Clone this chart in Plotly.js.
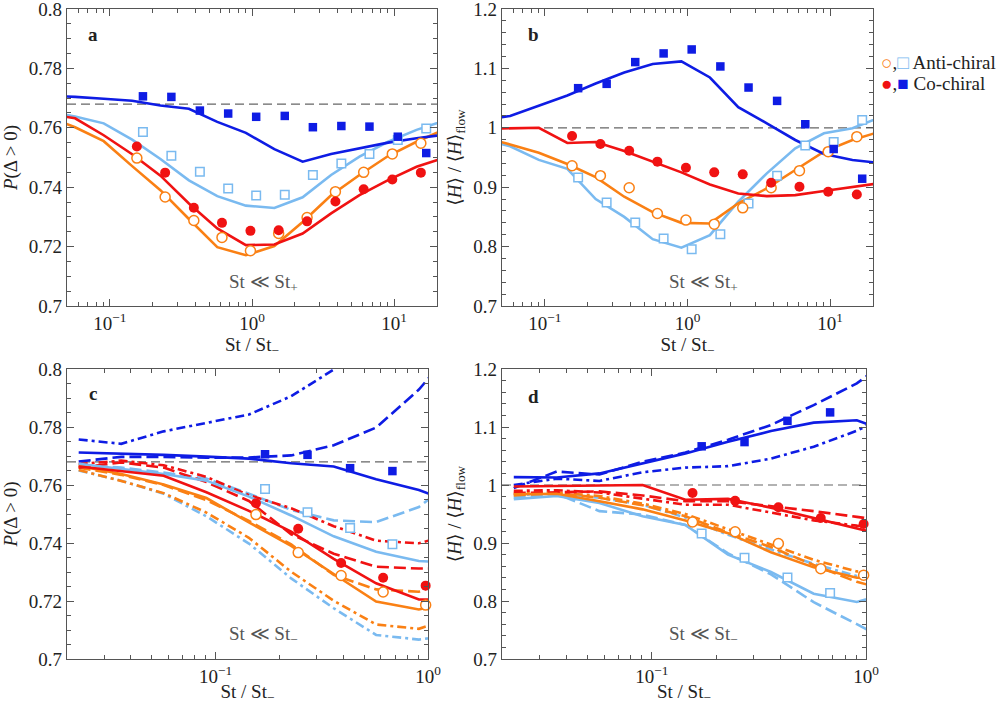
<!DOCTYPE html>
<html>
<head>
<meta charset="utf-8">
<script src="https://cdn.plot.ly/plotly-3.0.1.min.js"></script>
<style>
  html, body { margin: 0; padding: 0; background: #fff; }
  #chart { width: 1003px; height: 705px; }
</style>
</head>
<body>
<div id="chart"></div>
<script>
// Model grid of St / St- values on which the curves are computed
const stModel = [0.0227, 0.036, 0.057, 0.0906, 0.1436, 0.227, 0.36, 0.57, 0.906, 1.436, 2.27, 3.6, 5.7, 9.06, 14.36, 22.7];
// Simulation points: circles and squares sit on slightly shifted St values
const stCirc = [0.155, 0.245, 0.39, 0.615, 0.975, 1.54, 2.44, 3.86, 6.1, 9.7, 15.4];
const stSq = [0.171, 0.271, 0.43, 0.68, 1.07, 1.7, 2.68, 4.25, 6.7, 10.6, 16.8];

// P(Delta > 0): model curves (solid)
const pAntiCirc = [0.7666, 0.7638, 0.7602, 0.7555, 0.7471, 0.7390, 0.7293, 0.7198, 0.7171, 0.7202, 0.7283, 0.7373, 0.7441, 0.7505, 0.7553, 0.7595];
const pAntiSq = [0.7673, 0.7655, 0.7638, 0.7615, 0.7560, 0.7495, 0.7423, 0.7370, 0.7338, 0.7330, 0.7366, 0.7441, 0.7503, 0.7553, 0.7593, 0.7625];
const pCoCirc = [0.7664, 0.7648, 0.7632, 0.7575, 0.7511, 0.7439, 0.7345, 0.7261, 0.7205, 0.7207, 0.7244, 0.7312, 0.7373, 0.7424, 0.7469, 0.7500];
const pCoSq = [0.7712, 0.7709, 0.7704, 0.7698, 0.7691, 0.7675, 0.7664, 0.7620, 0.7583, 0.7528, 0.7486, 0.7512, 0.7531, 0.7550, 0.7565, 0.7577];

// P(Delta > 0): variants in the St << St- regime (dashed, dash-dot), first 10 grid values
const pAntiCircDash = [0.7660, 0.7635, 0.7600, 0.7548, 0.7476, 0.7395, 0.7290, 0.7240, 0.7232, 0.7292];
const pAntiCircDashDot = [0.7652, 0.7614, 0.7572, 0.7505, 0.7418, 0.7301, 0.7201, 0.7119, 0.7104, 0.7155];
const pAntiSqDash = [0.7668, 0.7660, 0.7643, 0.7622, 0.7570, 0.7514, 0.7478, 0.7472, 0.7524, 0.7640];
const pAntiSqDashDot = [0.7650, 0.7615, 0.7570, 0.7492, 0.7398, 0.7278, 0.7175, 0.7083, 0.7067, 0.7086];
const pCoCircDash = [0.7660, 0.7678, 0.7660, 0.7610, 0.7545, 0.7430, 0.7363, 0.7318, 0.7312, 0.7312];
const pCoCircDashDot = [0.7672, 0.7684, 0.7668, 0.7628, 0.7565, 0.7520, 0.7458, 0.7408, 0.7399, 0.7440];
const pCoSqDash = [0.7681, 0.7697, 0.7697, 0.7694, 0.7695, 0.7702, 0.7737, 0.7798, 0.7929, 0.8100];
const pCoSqDashDot = [0.7757, 0.7742, 0.7785, 0.7814, 0.7843, 0.7906, 0.7998, 0.8120, 0.8250, 0.8400];

// P(Delta > 0): simulation points
const pAntiCircPts = [0.7498, 0.7367, 0.7288, 0.7231, 0.7186, 0.7244, 0.7298, 0.7385, 0.7450, 0.7512, 0.7548];
const pAntiSqPts = [0.7586, 0.7506, 0.7452, 0.7396, 0.7372, 0.7375, 0.7441, 0.7480, 0.7512, 0.7559, 0.7598];
const pCoCircPts = [0.7537, 0.7449, 0.7331, 0.7280, 0.7253, 0.7255, 0.7285, 0.7352, 0.7393, 0.7426, 0.7449];
const pCoSqPts = [0.7706, 0.7704, 0.7658, 0.7648, 0.7637, 0.7640, 0.7602, 0.7606, 0.7604, 0.7570, 0.7515];

// <H>/<H>_flow: model curves (solid)
const hAntiCirc = [0.984, 0.985, 0.972, 0.958, 0.939, 0.917, 0.884, 0.858, 0.840, 0.839, 0.873, 0.898, 0.929, 0.960, 0.9795, 0.994];
const hAntiSq = [0.9756, 0.981, 0.969, 0.946, 0.931, 0.880, 0.850, 0.8125, 0.7982, 0.8192, 0.8755, 0.9233, 0.9655, 0.9908, 0.9992, 1.018];
const hCoCirc = [0.9975, 0.9986, 0.9992, 1.0000, 0.9745, 0.9760, 0.9610, 0.9430, 0.9250, 0.9047, 0.8895, 0.8850, 0.8867, 0.8935, 0.9008, 0.9070];
const hCoSq = [1.0136, 1.0130, 1.0200, 1.0370, 1.0545, 1.0745, 1.0930, 1.1075, 1.1117, 1.0847, 1.0346, 1.0076, 0.9795, 0.9559, 0.9458, 0.9405];

// <H>/<H>_flow: variants in the St << St- regime
const hAntiCircDash = [0.982, 0.986, 0.978, 0.965, 0.946, 0.918, 0.893, 0.862, 0.833, 0.814];
const hAntiCircDashDot = [0.986, 0.987, 0.981, 0.968, 0.950, 0.924, 0.898, 0.871, 0.851, 0.850];
const hAntiSqDash = [0.978, 0.985, 0.955, 0.949, 0.931, 0.882, 0.846, 0.798, 0.760, 0.722];
const hAntiSqDashDot = [0.982, 0.986, 0.978, 0.966, 0.944, 0.914, 0.889, 0.864, 0.843, 0.838];
const hCoCircDash = [0.986, 0.987, 0.989, 0.982, 0.972, 0.972, 0.964, 0.955, 0.945, 0.935];
const hCoCircDashDot = [0.990, 0.991, 0.987, 0.977, 0.966, 0.966, 0.953, 0.939, 0.930, 0.926];
const hCoSqDash = [0.9946, 1.0233, 1.0180, 1.0400, 1.0560, 1.0782, 1.1035, 1.1378, 1.1752, 1.229];
const hCoSqDashDot = [1.0000, 1.0110, 1.0070, 1.0220, 1.0300, 1.0325, 1.0455, 1.0660, 1.0935, 1.131];

// <H>/<H>_flow: simulation points
const hAntiCircPts = [0.9362, 0.9194, 0.8991, 0.8558, 0.8446, 0.8378, 0.8653, 0.8991, 0.9278, 0.9598, 0.9851];
const hAntiSqPts = [0.9165, 0.8744, 0.8406, 0.8136, 0.7956, 0.8209, 0.8727, 0.9193, 0.9700, 0.9761, 1.0133];
const hCoCircPts = [0.9863, 0.9728, 0.9615, 0.9430, 0.9328, 0.9250, 0.9216, 0.9075, 0.9008, 0.8924, 0.8878];
const hCoSqPts = [1.0667, 1.0740, 1.1106, 1.1252, 1.1319, 1.1033, 1.0678, 1.0453, 1.0060, 0.9643, 0.9143];

// Reference levels
const pRef = 0.768;
const hRef = 1.0;

// Tick labels
const tickValsWide = [0.1, 1, 10];
const tickTextWide = ['10<sup>−1</sup>', '10<sup>0</sup>', '10<sup>1</sup>'];
const tickValsNarrow = [0.1, 1];
const tickTextNarrow = ['10<sup>−1</sup>', '10<sup>0</sup>'];
const pTickVals = [0.7, 0.72, 0.74, 0.76, 0.78, 0.8];
const pTickText = ['0.7', '0.72', '0.74', '0.76', '0.78', '0.8'];
const hTickVals = [0.7, 0.8, 0.9, 1.0, 1.1, 1.2];
const hTickText = ['0.7', '0.8', '0.9', '1', '1.1', '1.2'];

const FONT = '"Liberation Serif", "DejaVu Serif", "Times New Roman", serif';
const C = {
  orange: 'rgb(250,128,20)',
  light: 'rgb(122,186,240)',
  red: 'rgb(240,18,18)',
  blue: 'rgb(14,28,228)'
};
const DASH = '12px,5px';
const DASHDOT = '9px,4px,3px,4px';
const AX = '#555';
const TXT = '#222';

function minorLog(lo, hi) {
  const out = [];
  for (let e = -3; e <= 2; e++) {
    for (let m = 2; m <= 9; m++) {
      const v = m * Math.pow(10, e);
      if (v >= lo * 0.999 && v <= hi * 1.001) out.push(v);
    }
  }
  return out;
}

function xAxis(domain, lo, hi, anchor, tv, tt) {
  return {
    type: 'log', domain, anchor,
    range: [Math.log10(lo), Math.log10(hi)],
    tickmode: 'array', tickvals: tv, ticktext: tt,
    ticks: 'inside', ticklen: 7, tickwidth: 1, tickcolor: AX,
    showline: true, linecolor: AX, linewidth: 1.2, mirror: 'ticks',
    showgrid: false, zeroline: false, ticklabeloverflow: 'allow',
    minor: { tickvals: minorLog(lo, hi), ticks: 'inside', ticklen: 4, tickcolor: AX, showgrid: false },
    tickfont: { family: FONT, size: 19, color: TXT },
    title: { text: 'St / St<sub>−</sub>', font: { family: FONT, size: 19, color: TXT }, standoff: 0 }
  };
}

function yAxis(domain, range, tv, tt, minorStep, anchor, title) {
  return {
    domain, anchor, range,
    tickmode: 'array', tickvals: tv, ticktext: tt,
    ticks: 'inside', ticklen: 7, tickwidth: 1, tickcolor: AX,
    showline: true, linecolor: AX, linewidth: 1.2, mirror: 'ticks',
    showgrid: false, zeroline: false, ticklabeloverflow: 'allow',
    minor: { dtick: minorStep, tick0: range[0], ticks: 'inside', ticklen: 4, tickcolor: AX, showgrid: false },
    tickfont: { family: FONT, size: 19, color: TXT },
    title: { text: title, font: { family: FONT, size: 19, color: TXT }, standoff: 6 }
  };
}

function line(x, y, xa, ya, color, dash) {
  const n = Math.min(x.length, y.length);
  return {
    type: 'scatter', mode: 'lines', x: x.slice(0, n), y: y.slice(0, n),
    xaxis: xa, yaxis: ya, showlegend: false, hoverinfo: 'skip',
    line: { color, width: 2.6, dash: dash || 'solid' }
  };
}

function pts(x, y, xa, ya, color, symbol, filled, xmax) {
  const xs = [], ys = [];
  x.forEach((v, i) => { if (v <= xmax) { xs.push(v); ys.push(y[i]); } });
  const isCircle = symbol === 'circle';
  return {
    type: 'scatter', mode: 'markers', x: xs, y: ys,
    xaxis: xa, yaxis: ya, showlegend: false, hoverinfo: 'skip', cliponaxis: false,
    marker: {
      symbol, size: isCircle ? 10 : 8.5,
      color: filled ? color : '#fff',
      line: { color, width: filled ? 0 : 1.5 }
    }
  };
}

const traces = [];
const nVar = 10;
const stVar = stModel.slice(0, nVar);

// Panel a: P(Delta>0), St << St+
traces.push(line(stModel, pAntiSq, 'x', 'y', C.light));
traces.push(line(stModel, pAntiCirc, 'x', 'y', C.orange));
traces.push(line(stModel, pCoCirc, 'x', 'y', C.red));
traces.push(line(stModel, pCoSq, 'x', 'y', C.blue));

// Panel b: <H>/<H>flow, St << St+
traces.push(line(stModel, hAntiSq, 'x2', 'y2', C.light));
traces.push(line(stModel, hAntiCirc, 'x2', 'y2', C.orange));
traces.push(line(stModel, hCoCirc, 'x2', 'y2', C.red));
traces.push(line(stModel, hCoSq, 'x2', 'y2', C.blue));

// Panel c: P(Delta>0), St << St-
traces.push(line(stVar, pAntiSqDashDot, 'x3', 'y3', C.light, DASHDOT));
traces.push(line(stVar, pAntiCircDashDot, 'x3', 'y3', C.orange, DASHDOT));
traces.push(line(stVar, pAntiCircDash, 'x3', 'y3', C.orange, DASH));
traces.push(line(stVar, pAntiSqDash, 'x3', 'y3', C.light, DASH));
traces.push(line(stVar, pCoCircDash, 'x3', 'y3', C.red, DASH));
traces.push(line(stVar, pCoCircDashDot, 'x3', 'y3', C.red, DASHDOT));
traces.push(line(stVar, pCoSqDash, 'x3', 'y3', C.blue, DASH));
traces.push(line(stVar, pCoSqDashDot, 'x3', 'y3', C.blue, DASHDOT));
traces.push(line(stModel, pAntiCirc, 'x3', 'y3', C.orange));
traces.push(line(stModel, pAntiSq, 'x3', 'y3', C.light));
traces.push(line(stModel, pCoCirc, 'x3', 'y3', C.red));
traces.push(line(stModel, pCoSq, 'x3', 'y3', C.blue));

// Panel d: <H>/<H>flow, St << St-
traces.push(line(stVar, hAntiSqDash, 'x4', 'y4', C.light, DASH));
traces.push(line(stVar, hAntiSqDashDot, 'x4', 'y4', C.light, DASHDOT));
traces.push(line(stVar, hAntiCircDash, 'x4', 'y4', C.orange, DASH));
traces.push(line(stVar, hAntiCircDashDot, 'x4', 'y4', C.orange, DASHDOT));
traces.push(line(stVar, hCoCircDash, 'x4', 'y4', C.red, DASH));
traces.push(line(stVar, hCoCircDashDot, 'x4', 'y4', C.red, DASHDOT));
traces.push(line(stVar, hCoSqDash, 'x4', 'y4', C.blue, DASH));
traces.push(line(stVar, hCoSqDashDot, 'x4', 'y4', C.blue, DASHDOT));
traces.push(line(stModel, hAntiSq, 'x4', 'y4', C.light));
traces.push(line(stModel, hAntiCirc, 'x4', 'y4', C.orange));
traces.push(line(stModel, hCoCirc, 'x4', 'y4', C.red));
traces.push(line(stModel, hCoSq, 'x4', 'y4', C.blue));

// Simulation points on every panel
[['x', 'y', 20, 'p'], ['x2', 'y2', 20, 'h'], ['x3', 'y3', 1, 'p'], ['x4', 'y4', 1, 'h']].forEach(([xa, ya, xmax, q]) => {
  const d = q === 'p'
    ? [pAntiSqPts, pAntiCircPts, pCoCircPts, pCoSqPts]
    : [hAntiSqPts, hAntiCircPts, hCoCircPts, hCoSqPts];
  traces.push(pts(stSq, d[0], xa, ya, C.light, 'square', false, xmax));
  traces.push(pts(stCirc, d[1], xa, ya, C.orange, 'circle', false, xmax));
  traces.push(pts(stCirc, d[2], xa, ya, C.red, 'circle', true, xmax));
  traces.push(pts(stSq, d[3], xa, ya, C.blue, 'square', true, xmax));
});

const W = 1003, H = 705;
const px = v => v / W;
const py = v => 1 - v / H;

const yTitleP = '<i>P</i>(Δ > 0)';
const yTitleH = '⟨<i>H</i>⟩ / ⟨<i>H</i>⟩<sub>flow</sub>';

const refLine = (xa, ya, y) => ({
  type: 'line', xref: xa + ' domain', yref: ya, x0: 0, x1: 1, y0: y, y1: y,
  line: { color: '#666', width: 1.2, dash: '9px,5px' }, layer: 'below'
});

const txt = (x, y, text, opts) => Object.assign({
  xref: 'paper', yref: 'paper', x: px(x), y: py(y), text, showarrow: false,
  font: { family: FONT, size: 19, color: TXT }, xanchor: 'center', yanchor: 'middle'
}, opts || {});
const noteFont = { family: FONT, size: 19, color: '#555' };

const layout = {
  width: W, height: H,
  margin: { l: 0, r: 0, t: 0, b: 0 },
  paper_bgcolor: '#fff', plot_bgcolor: '#fff',
  showlegend: false,
  font: { family: FONT, size: 19, color: TXT },
  xaxis: xAxis([px(67), px(437)], 0.05, 20, 'y', tickValsWide, tickTextWide),
  yaxis: yAxis([py(306), py(9)], [0.7, 0.8], pTickVals, pTickText, 0.005, 'x', yTitleP),
  xaxis2: xAxis([px(502), px(873)], 0.05, 20, 'y2', tickValsWide, tickTextWide),
  yaxis2: yAxis([py(306), py(9)], [0.7, 1.2], hTickVals, hTickText, 0.02, 'x2', yTitleH),
  xaxis3: xAxis([px(67), px(428)], 0.02, 1, 'y3', tickValsNarrow, tickTextNarrow),
  yaxis3: yAxis([py(659), py(369)], [0.7, 0.8], pTickVals, pTickText, 0.005, 'x3', yTitleP),
  xaxis4: xAxis([px(502), px(866)], 0.02, 1, 'y4', tickValsNarrow, tickTextNarrow),
  yaxis4: yAxis([py(659), py(369)], [0.7, 1.2], hTickVals, hTickText, 0.02, 'x4', yTitleH),
  shapes: [
    refLine('x', 'y', pRef), refLine('x2', 'y2', hRef),
    refLine('x3', 'y3', pRef), refLine('x4', 'y4', hRef)
  ],
  annotations: [
    txt(93, 35, '<b>a</b>'), txt(533, 35, '<b>b</b>'),
    txt(93, 393, '<b>c</b>'), txt(533, 396, '<b>d</b>'),
    txt(263, 283, 'St ≪ St<sub>+</sub>', { font: noteFont }),
    txt(703, 283, 'St ≪ St<sub>+</sub>', { font: noteFont }),
    txt(263, 635, 'St ≪ St<sub>−</sub>', { font: noteFont }),
    txt(703, 635, 'St ≪ St<sub>−</sub>', { font: noteFont }),
    txt(879, 62, '<span style="color:' + C.orange + '">○</span>,<span style="color:' + C.light + '">□</span> Anti-chiral', { xanchor: 'left' }),
    txt(879, 83, '<span style="color:' + C.red + '">●</span>,<span style="color:' + C.blue + '">■</span> Co-chiral', { xanchor: 'left' })
  ]
};

Plotly.newPlot('chart', traces, layout, { displayModeBar: false, staticPlot: true });
</script>
</body>
</html>
